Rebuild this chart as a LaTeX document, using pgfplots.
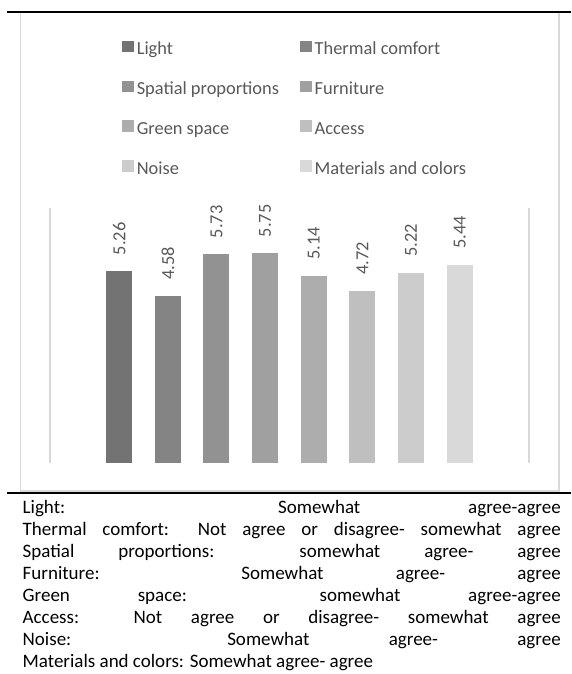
\documentclass[border=0pt]{standalone}
\usepackage{fontspec}
\setmainfont{Carlito}
\usepackage{pgfplots}
\pgfplotsset{compat=1.18}

\definecolor{cLight}{RGB}{115,115,115}
\definecolor{cThermal}{RGB}{132,132,132}
\definecolor{cSpatial}{RGB}{146,146,146}
\definecolor{cFurniture}{RGB}{160,160,160}
\definecolor{cGreen}{RGB}{173,173,173}
\definecolor{cAccess}{RGB}{191,191,191}
\definecolor{cNoise}{RGB}{204,204,204}
\definecolor{cMaterials}{RGB}{217,217,217}
\definecolor{textgray}{RGB}{89,89,89}
\definecolor{gridgray}{RGB}{217,217,217}

\newcommand{\chartfont}{\fontsize{18.4pt}{22pt}\selectfont}
\newcommand{\notefont}{\fontsize{19pt}{22pt}\selectfont}

\pgfplotsset{
  onebar/.style={ybar, bar width=26pt, bar shift=0pt, draw=none, fill=#1,
    legend image code/.code={\fill[#1] (0pt,-2pt) rectangle (11.6pt,9.6pt);}},
}

\begin{document}
\begin{tikzpicture}
\path[use as bounding box, fill=white] (0pt,0pt) rectangle (571pt,674pt);
% chart frame and the table rules around it
\draw[gridgray, line width=1.2pt] (20.7pt,183pt) rectangle (559pt,661.7pt);
\draw[black, line width=1.7pt] (7.3pt,662.3pt) -- (571pt,662.3pt);
\draw[black, line width=1.7pt] (7pt,181pt) -- (571pt,181pt);

\begin{axis}[
  at={(50pt,211.3pt)}, anchor=south west,
  scale only axis, width=479pt, height=254.7pt,
  xmin=-1.4227, xmax=8.425, ymin=0, ymax=7,
  xtick=\empty, ytick=\empty,
  separate axis lines,
  x axis line style={draw=none},
  y axis line style={draw=gridgray, line width=1.5pt},
  clip=false,
  nodes near coords={\pgfmathprintnumber[fixed,fixed zerofill,precision=2,assume math mode=true]{\pgfplotspointmeta}},
  every node near coord/.append style={font=\chartfont, color=textgray,
    rotate=90, anchor=west, inner xsep=16pt, inner ysep=0pt},
  legend columns=2,
  legend cell align=left,
  legend style={draw=none, fill=none, at={(0.1503,1.6577)}, anchor=north west,
    font=\chartfont, text=textgray, inner sep=0pt, row sep=21.8pt,
    nodes={inner sep=0pt, text height=13pt, text depth=4pt},
    /tikz/every odd column/.append style={column sep=3pt},
    /tikz/every even column/.append style={column sep=21pt}},
]
\addplot[onebar=cLight] coordinates {(0,5.26)};
\addlegendentry{Light}
\addplot[onebar=cThermal] coordinates {(1,4.58)};
\addlegendentry{Thermal comfort}
\addplot[onebar=cSpatial] coordinates {(2,5.73)};
\addlegendentry{Spatial proportions}
\addplot[onebar=cFurniture] coordinates {(3,5.75)};
\addlegendentry{Furniture}
\addplot[onebar=cGreen] coordinates {(4,5.14)};
\addlegendentry{Green space}
\addplot[onebar=cAccess] coordinates {(5,4.72)};
\addlegendentry{Access}
\addplot[onebar=cNoise] coordinates {(6,5.22)};
\addlegendentry{Noise}
\addplot[onebar=cMaterials] coordinates {(7,5.44)};
\addlegendentry{Materials and colors}
\end{axis}

% justified notes below the chart
\begin{scope}[every node/.style={anchor=base west, inner sep=0pt, font=\notefont}]
\node at (22.5pt,160.6pt) {\makebox[538pt][s]{Light: Somewhat agree-agree}};
\node at (22.5pt,138.6pt) {\makebox[538pt][s]{Thermal comfort: Not agree or disagree- somewhat agree}};
\node at (22.5pt,116.6pt) {\makebox[538pt][s]{Spatial proportions: somewhat agree- agree}};
\node at (22.5pt,94.6pt) {\makebox[538pt][s]{Furniture: Somewhat agree- agree}};
\node at (22.5pt,72.6pt) {\makebox[538pt][s]{Green space: somewhat agree-agree}};
\node at (22.5pt,50.6pt) {\makebox[538pt][s]{Access: Not agree or disagree- somewhat agree}};
\node at (22.5pt,28.6pt) {\makebox[538pt][s]{Noise: Somewhat agree- agree}};
\node at (22.5pt,6.6pt) {\makebox[538pt][l]{Materials and colors: Somewhat agree- agree}};
\end{scope}
\end{tikzpicture}
\end{document}
